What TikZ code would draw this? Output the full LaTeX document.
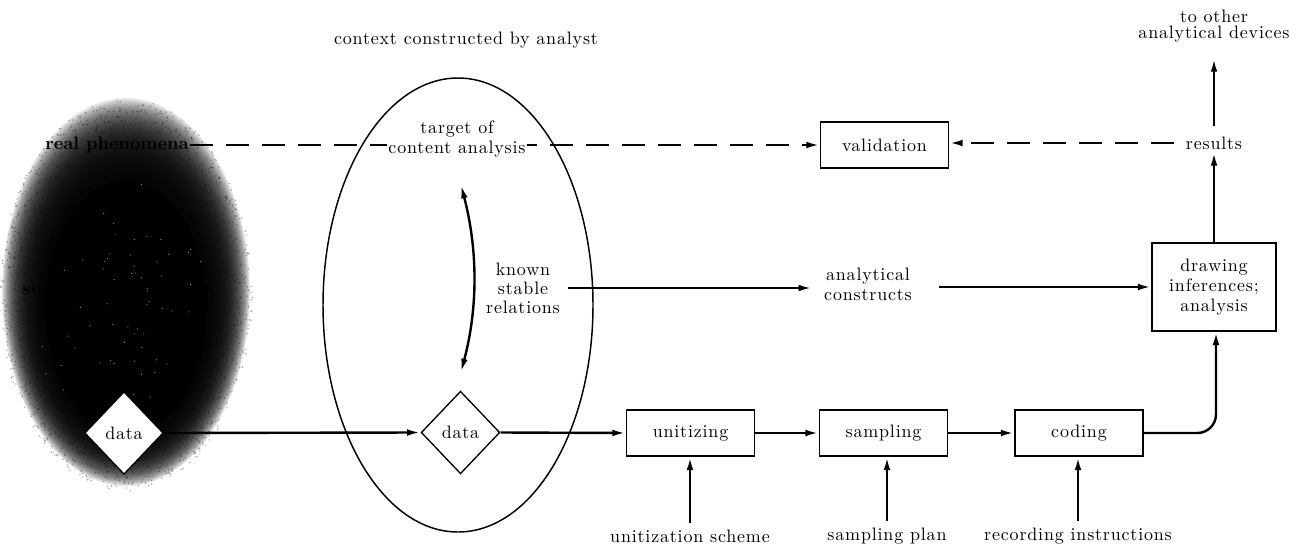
\documentclass[tikz,border=0pt]{standalone}
\usepackage{fontspec}
\setmainfont{lmroman10-regular.otf}[BoldFont=lmroman10-bold.otf, LetterSpace=4.5, BoldFeatures={LetterSpace=0}]
\usetikzlibrary{arrows.meta,shapes.geometric,calc}
\newcommand{\lsfont}[2]{\fontsize{#1}{#2}\selectfont}
\begin{document}
\begin{tikzpicture}[x=0.75pt,y=-0.75pt,
  every node/.style={font=\lsfont{13.5}{15}, inner sep=0pt, align=center},
  box/.style={draw, line width=1.1pt, minimum width=96pt, minimum height=34.5pt},
  dia/.style={diamond, draw, line width=1pt, fill=white, minimum width=59pt, minimum height=62pt},
  tip/.style={-{Latex[length=10pt,width=5pt]}},
  conn/.style={line width=1.8pt, tip},
  dashconn/.style={line width=1.8pt, dash pattern=on 17pt off 10pt, tip}
]
\useasboundingbox (0,0) rectangle (1296,546);
% cloud of surrounding phenomena
\foreach \k in {0,...,44} {
  \fill[black, opacity=0.09] (126,{292+0.35*\k}) ellipse [x radius={124-0.95*\k}, y radius={194-1.5*\k}];
}
\fill[black] (126,307.75) ellipse [x radius=81, y radius=127];
\pgfmathsetseed{7}
\foreach \i in {1,...,1400} {
  \pgfmathsetmacro{\ang}{rnd*360}
  \pgfmathsetmacro{\rr}{0.78+0.24*rnd}
  \fill[black, opacity=0.35] ({126+124*\rr*cos(\ang)},{295+192*\rr*sin(\ang)}) circle [radius=0.8];
}
\foreach \i in {1,...,60} {
  \pgfmathsetmacro{\ang}{rnd*360}
  \pgfmathsetmacro{\rr}{0.15+0.7*rnd}
  \fill[white, opacity=0.6] ({126+110*\rr*cos(\ang)},{300+170*\rr*sin(\ang)}) circle [radius=0.6];
}
\node (hidden) at (118,290) {\bfseries surrounding contexts};
\node (realph) at (117,145) {\bfseries real phenomena};
% context ellipse
\node (ctx) at (466,40) {context constructed by analyst};
\node[font=\lsfont{13.5}{14.3}] (known) at (523,288) {known\\stable\\relations};
\coordinate (ka) at (461,185);
\coordinate (kb) at (461,372);
\draw[line width=1.8pt, {Latex[length=10pt,width=5pt]}-{Latex[length=10pt,width=5pt]}] (ka) .. controls (478,250) and (478,308) .. (kb);
% middle row
\node (constr) at (868,284) {analytical\\constructs};
\node[box, minimum width=93pt, minimum height=66pt] (infer) at (1214,287) {drawing\\inferences;\\analysis};
% top row
\node[box] (val) at (884.5,145) {validation};
\node (res) at (1214,143) {results};
\node[font=\lsfont{13.5}{12}] (dev) at (1214,26) {to other\\analytical devices};
% bottom row
\node[dia] (d1) at (124,433) {data};
\node[dia] (d2) at (460.5,432.5) {data};
\node[box] (unit) at (690.5,433) {unitizing};
\node[box] (samp) at (883.5,433) {sampling};
\node[box] (cod) at (1079,433) {coding};
\node (us) at (690,536) {unitization scheme};
\node (sp) at (887,536) {sampling plan};
\node (ri) at (1078,536) {recording instructions};
% connectors
\draw[dashconn, shorten <=1pt] (realph.east) -- (realph.east -| val.west);
\node[fill=white, inner sep=1pt] (target) at (457,139) {target of\\content analysis};
\draw[line width=1.1pt] (458,305) ellipse [x radius=135, y radius=227];
\draw[dashconn, shorten <=9pt] (res.west) -- (res.west -| val.east);
\draw[conn, shorten <=8pt, shorten >=12pt] (res.north) -- (dev.south);
\draw[conn, shorten >=2pt] (infer.north) -- (res.south);
\draw[conn, shorten <=6pt, shorten >=9pt] (known.east) -- (known.east -| constr.west);
\draw[conn, shorten <=20pt] (constr.east |- infer.west) -- (infer.west);
\draw[conn] (d1.east) -- (d2.west);
\draw[conn] (d2.east) -- (unit.west);
\draw[conn] (unit.east) -- (samp.west);
\draw[conn] (samp.east) -- (cod.west);
\draw[conn, rounded corners=14pt] (cod.east) -| ($(infer.south)+(2,0)$);
\draw[conn, shorten <=5pt] (us.north) -- (us.north |- unit.south);
\draw[conn, shorten <=5pt] (sp.north) -- (sp.north |- samp.south);
\draw[conn, shorten <=5pt] (ri.north) -- (ri.north |- cod.south);
\end{tikzpicture}
\end{document}
